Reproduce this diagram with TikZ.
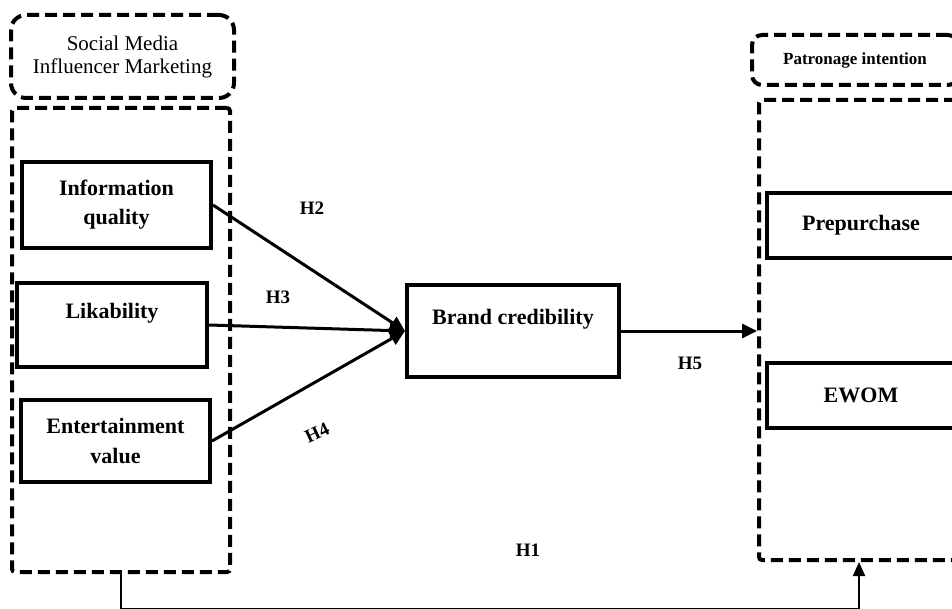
\documentclass[tikz,border=0pt]{standalone}
\usepackage{fontspec}
\setmainfont{Liberation Serif}
\usetikzlibrary{arrows.meta,positioning}

\tikzset{
  dashbox/.style={draw, line width=4pt, dash pattern=on 12pt off 6pt, inner sep=0pt},
  factor/.style={draw, line width=4pt, align=center, inner sep=0pt,
    font=\fontsize{22}{29}\selectfont\bfseries},
  hyp/.style={font=\fontsize{19}{22}\selectfont\bfseries},
  link/.style={line width=3pt, -{Triangle[length=15pt,width=14pt]}},
}

\begin{document}
\begin{tikzpicture}[x=1pt,y=-1pt]
  \path[use as bounding box, clip] (0,0) rectangle (952,609);

  % group frames
  \node[dashbox, rounded corners=15pt, minimum width=223pt, minimum height=83pt,
        align=center, font=\fontsize{21}{23}\selectfont]
        (smimtitle) at (122.5,56.5) {Social Media\\Influencer Marketing};
  \node[dashbox, rounded corners=3pt, minimum width=218pt, minimum height=464pt] (smim) at (121,340) {};
  \node[dashbox, rounded corners=10pt, minimum width=206pt, minimum height=50pt,
        font=\fontsize{17}{20}\selectfont\bfseries]
        (pinttitle) at (855,60) {Patronage intention};
  \node[dashbox, rounded corners=3pt, minimum width=200pt, minimum height=460pt] (pint) at (859,330) {};

  % constructs
  \node[factor, minimum width=189pt, minimum height=86pt] (info) at (116.5,205) {Information\\quality};
  \node[factor, minimum width=190pt, minimum height=84pt] (likab) at (112,325) {Likability\\~};
  \node[factor, minimum width=189pt, minimum height=82pt] (enter) at (115.5,441) {Entertainment\\value};
  \node[factor, minimum width=212pt, minimum height=92pt] (brand) at (513,331) {Brand credibility\\~};
  \node[factor, minimum width=188pt, minimum height=65pt] (prepur) at (861,225.5) {Prepurchase};
  \node[factor, minimum width=188pt, minimum height=65pt] (ewom) at (861,395.5) {EWOM};

  % paths
  \draw[link] (info.east) -- (brand.west);
  \draw[link] (likab.east) -- (brand.west);
  \draw[link] (enter.east) -- (brand.west);
  \draw[link] (brand.east) -- (brand.east -| pint.west);
  \draw[line width=2pt, -{Triangle[length=14pt,width=12pt]}]
    (smim.south) -- ++(0,35) -| (pint.south);

  % hypotheses
  \node[hyp] (h2) at (312,208) {H2};
  \node[hyp] (h3) at (278,297) {H3};
  \node[hyp, rotate=25] (h4) at (317,433) {H4};
  \node[hyp] (h5) at (690,363) {H5};
  \node[hyp] (h1) at (528,550) {H1};
\end{tikzpicture}
\end{document}
